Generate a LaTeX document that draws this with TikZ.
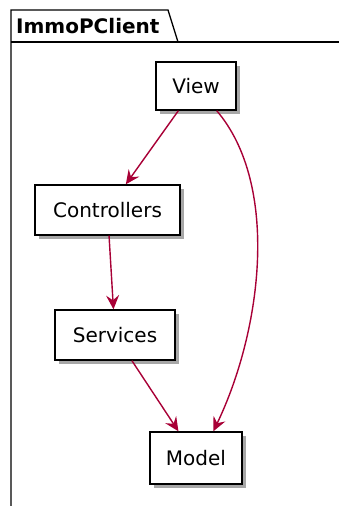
\documentclass[tikz,border=0pt]{standalone}
\usepackage{fontspec}
\setmainfont{DejaVu Sans}
\usetikzlibrary{arrows.meta,shadows}
\definecolor{umlred}{HTML}{A80036}
\definecolor{umlshadow}{HTML}{8A8A8A}
\begin{document}
\begin{tikzpicture}[x=1pt, y=-1pt,
	box/.style={shape=rectangle, draw=black, fill=white, line width=1.4pt,
		inner sep=0pt, font=\fontsize{20}{24}\selectfont,
		drop shadow={shadow xshift=4pt, shadow yshift=-4pt, fill=umlshadow, opacity=0.75}},
	dep/.style={draw=umlred, line width=1.4pt, -{Stealth[length=14pt, width=13pt, inset=5pt]}}]
			\useasboundingbox (0,0) rectangle (339,506);
			%Package frame:
			\draw[line width=1.3pt] (11,506) -- (11,10) -- (168,10) -- (178,42);
			\draw[line width=1.3pt] (11,42) -- (339,42);
			\path (16,26) node[anchor=west, inner sep=0pt, font=\fontsize{20}{24}\selectfont\bfseries] (pkg) {ImmoPClient};
			%Components:
			\path
				(196, 86) node[box, minimum width=80, minimum height=48] (view) {View}
				(107.5, 210) node[box, minimum width=145, minimum height=50] (controllers) {Controllers}
				(115, 335) node[box, minimum width=120, minimum height=50] (services) {Services}
				(196, 458) node[box, minimum width=92, minimum height=52] (model) {Model};
			%Dependencies:
			\draw[dep] (view) -- (controllers);
			\draw[dep] (controllers) -- (services);
			\draw[dep] (services) -- (model);
			\draw[dep] (view.-50) .. controls (280,185) and (262,330) .. (model.57);
			\end{tikzpicture}
\end{document}
